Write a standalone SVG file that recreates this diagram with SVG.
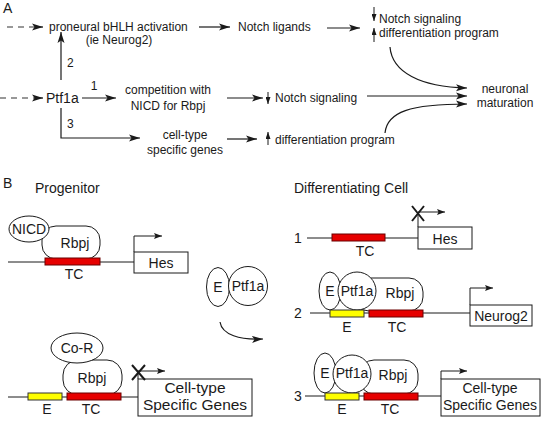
<svg xmlns="http://www.w3.org/2000/svg" width="549" height="424" viewBox="0 0 549 424">
<defs>
<style>
text { font-family: "Liberation Sans", Arial, sans-serif; fill: #1a1a1a; }
.a { font-size: 12px; }
.b { font-size: 14px; }
.c { font-size: 15.5px; }
.m { text-anchor: middle; }
.ln { stroke: #1a1a1a; stroke-width: 1.2; fill: none; }
.th { stroke: #1a1a1a; stroke-width: 1; fill: none; }
.dash { stroke: #777; stroke-width: 1.3; stroke-dasharray: 6 5; fill: none; }
.dna { stroke: #1a1a1a; stroke-width: 1; fill: none; }
.shape { fill: #fff; stroke: #1a1a1a; stroke-width: 1; }
.red { fill: #e60000; stroke: #6a0000; stroke-width: 1; }
.yel { fill: #ffff00; stroke: #333; stroke-width: 1; }
.x { stroke: #1a1a1a; stroke-width: 2; }
</style>
<marker id="ah" markerUnits="userSpaceOnUse" markerWidth="12" markerHeight="8" refX="11" refY="4" orient="auto" viewBox="0 0 12 8"><path d="M0,0.5 L11,4 L0,7.5 L2.5,4 z" fill="#1a1a1a"/></marker>
<marker id="as" markerUnits="userSpaceOnUse" markerWidth="7" markerHeight="5" refX="7" refY="2.5" orient="auto" viewBox="0 0 7 5"><path d="M0,0 L7,2.5 L0,5 z" fill="#1a1a1a"/></marker>
<marker id="au" markerUnits="userSpaceOnUse" markerWidth="8" markerHeight="6" refX="8" refY="3" orient="auto" viewBox="0 0 8 6"><path d="M0,0 L8,3 L0,6 L1.5,3 z" fill="#1a1a1a"/></marker>
</defs>

<!-- Panel A labels -->
<text class="b" x="3" y="13">A</text>
<g id="a-proneural"><text class="a" x="49" y="31">proneural bHLH activation</text><text class="a m" x="119" y="44">(ie Neurog2)</text></g>
<g id="a-notchlig"><text class="a" x="238" y="31">Notch ligands</text></g>
<g id="a-topright"><text class="a" x="379" y="23">Notch signaling</text><text class="a" x="379" y="37">differentiation program</text></g>
<g id="a-ptf1a"><text class="b" x="46" y="103">Ptf1a</text></g>
<g id="a-comp"><text class="a m" x="168" y="94">competition with</text><text class="a m" x="168" y="110">NICD for Rbpj</text></g>
<g id="a-notchsig"><text class="a" x="275" y="102">Notch signaling</text></g>
<g id="a-celltype"><text class="a m" x="185" y="139">cell-type</text><text class="a m" x="185" y="154">specific genes</text></g>
<g id="a-diff"><text class="a" x="275" y="144">differentiation program</text></g>
<g id="a-neuronal"><text class="a m" x="505" y="93">neuronal</text><text class="a m" x="505" y="107">maturation</text></g>

<g id="a-connectors">
<path class="dash" d="M7,27 L38,27"/><path class="ln" d="M36,27 L43,27" marker-end="url(#ah)"/>
<path class="ln" d="M199,27 L230,27" marker-end="url(#ah)"/>
<path class="ln" d="M327,28 L360,28" marker-end="url(#ah)"/>
<path class="th" d="M374,7 L374,21" marker-end="url(#as)"/>
<path class="th" d="M374,42 L374,28" marker-end="url(#as)"/>
<path class="ln" d="M390,47 C392,72 420,87 467,88" marker-end="url(#ah)"/>
<path class="ln" d="M61,80 L61,32" marker-end="url(#ah)"/>
<text class="a" x="67" y="67">2</text>
<path class="dash" d="M0,98 L38,98"/><path class="ln" d="M36,98 L43,98" marker-end="url(#ah)"/>
<path class="ln" d="M82,98 L116,98" marker-end="url(#ah)"/>
<text class="a m" x="94" y="90">1</text>
<path class="ln" d="M227,98 L263,98" marker-end="url(#ah)"/>
<path class="th" d="M268,92 L268,104" marker-end="url(#as)"/>
<path class="ln" d="M367,96 L467,96" marker-end="url(#ah)"/>
<path class="ln" d="M61,108 L61,138 L140,138" marker-end="url(#ah)"/>
<text class="a" x="67" y="128">3</text>
<path class="ln" d="M227,139 L257,139" marker-end="url(#ah)"/>
<path class="th" d="M268,145 L268,132" marker-end="url(#as)"/>
<path class="ln" d="M385,133 C387,112 410,104 467,104" marker-end="url(#ah)"/>
</g>

<!-- Panel B -->
<text class="b" x="3" y="188">B</text>
<text class="b" x="35" y="193">Progenitor</text>
<text class="b" x="294" y="193">Differentiating Cell</text>

<g id="prog-hes">
<line class="dna" x1="8" y1="262" x2="134" y2="262"/>
<rect class="shape" x="42" y="226" width="58" height="33" rx="14"/>
<ellipse class="shape" cx="29" cy="229" rx="20" ry="13"/>
<text class="b m" x="29" y="234">NICD</text>
<text class="b m" x="75" y="248">Rbpj</text>
<rect class="red" x="45" y="258" width="55" height="7"/>
<text class="b m" x="74" y="279">TC</text>
<rect class="shape" x="134" y="252" width="54" height="21"/>
<text class="b m" x="161" y="268">Hes</text>
<path class="th" d="M134,252 L134,236 L162,236" marker-end="url(#au)"/>
</g>

<g id="mid-eptf1a">
<ellipse class="shape" cx="218" cy="287" rx="11.5" ry="19.5"/>
<circle class="shape" cx="248" cy="286" r="19.5"/>
<text class="b m" x="218" y="292">E</text>
<text class="b m" x="248" y="291">Ptf1a</text>
<path class="ln" d="M220,322 C222,335 240,340 263,339" marker-end="url(#ah)"/>
</g>

<g id="prog-celltype">
<line class="dna" x1="8" y1="397" x2="138" y2="397"/>
<rect class="shape" x="63" y="360" width="59" height="35" rx="15"/>
<ellipse class="shape" cx="77" cy="348" rx="26" ry="15"/>
<text class="b m" x="77" y="353">Co-R</text>
<text class="b m" x="92" y="383">Rbpj</text>
<rect class="yel" x="28" y="393" width="34" height="7"/>
<rect class="red" x="67" y="393" width="54" height="7"/>
<text class="b m" x="47" y="414">E</text>
<text class="b m" x="91" y="414">TC</text>
<rect class="shape" x="138" y="379" width="114" height="37"/>
<text class="c m" x="195" y="393">Cell-type</text>
<text class="c m" x="195" y="410">Specific Genes</text>
<path class="th" d="M138,379 L138,371 L165,371" marker-end="url(#au)"/>
<path class="x" d="M132,365 L145,380 M145,365 L132,380"/>
</g>

<g id="diff-1">
<text class="b m" x="298" y="243">1</text>
<line class="dna" x1="307" y1="238" x2="418" y2="238"/>
<rect class="red" x="332" y="234" width="53" height="7"/>
<text class="b m" x="365" y="256">TC</text>
<rect class="shape" x="418" y="227" width="54" height="22"/>
<text class="b m" x="445" y="244">Hes</text>
<path class="th" d="M418,227 L418,212 L445,212" marker-end="url(#au)"/>
<path class="x" d="M412,206 L424,221 M424,206 L412,221"/>
</g>

<g id="diff-2">
<text class="b m" x="298" y="318">2</text>
<line class="dna" x1="310" y1="313" x2="470" y2="313"/>
<rect class="shape" x="355" y="278" width="68" height="33" rx="14"/>
<ellipse class="shape" cx="330" cy="291" rx="11" ry="19"/>
<circle class="shape" cx="357" cy="291" r="19"/>
<text class="b m" x="330" y="296">E</text>
<text class="b m" x="357" y="296">Ptf1a</text>
<text class="b m" x="400" y="298">Rbpj</text>
<rect class="yel" x="330" y="310" width="34" height="7"/>
<rect class="red" x="369" y="310" width="54" height="7"/>
<text class="b m" x="347" y="332">E</text>
<text class="b m" x="397" y="332">TC</text>
<rect class="shape" x="470" y="305" width="62" height="21"/>
<text class="b m" x="501" y="321">Neurog2</text>
<path class="th" d="M470,305 L470,288 L493,288" marker-end="url(#au)"/>
</g>

<g id="diff-3">
<text class="b m" x="298" y="401">3</text>
<line class="dna" x1="305" y1="396" x2="441" y2="396"/>
<rect class="shape" x="360" y="360" width="58" height="34" rx="14"/>
<ellipse class="shape" cx="325" cy="373" rx="11" ry="20"/>
<circle class="shape" cx="352" cy="374" r="19"/>
<text class="b m" x="325" y="378">E</text>
<text class="b m" x="352" y="378">Ptf1a</text>
<text class="b m" x="393" y="380">Rbpj</text>
<rect class="yel" x="325" y="393" width="34" height="7"/>
<rect class="red" x="364" y="393" width="54" height="7"/>
<text class="b m" x="342" y="414">E</text>
<text class="b m" x="390" y="414">TC</text>
<rect class="shape" x="441" y="379" width="99" height="37"/>
<text class="b m" x="490" y="393">Cell-type</text>
<text class="b m" x="490" y="410">Specific Genes</text>
<path class="th" d="M441,379 L441,371 L467,371" marker-end="url(#au)"/>
</g>
</svg>
